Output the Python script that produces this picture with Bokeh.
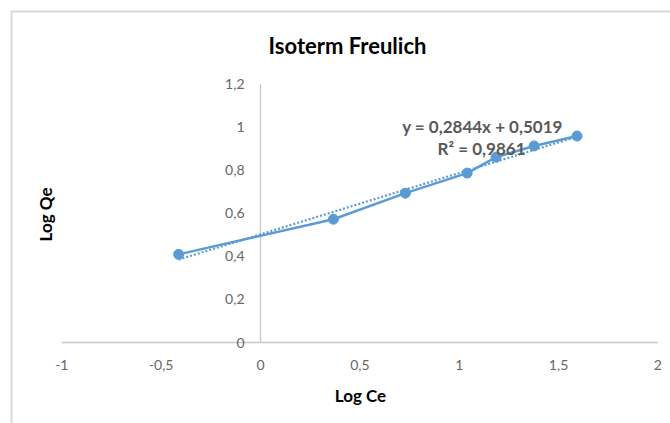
import math
from bokeh.plotting import figure
from bokeh.models import Range1d, Label, LabelSet, ColumnDataSource
from bokeh.core.properties import value
from bokeh.embed import file_html
from bokeh.resources import INLINE

# ---- data ----
log_ce = [-0.412, 0.367, 0.729, 1.040, 1.186, 1.377, 1.593]
log_qe = [0.409, 0.572, 0.693, 0.786, 0.860, 0.912, 0.958]
slope = 0.2844
intercept = 0.5019
r_squared = 0.9861
x_ticks = [-1, -0.5, 0, 0.5, 1, 1.5, 2]
x_tick_labels = ["-1", "-0,5", "0", "0,5", "1", "1,5", "2"]
y_ticks = [0, 0.2, 0.4, 0.6, 0.8, 1.0, 1.2]
y_tick_labels = ["0", "0,2", "0,4", "0,6", "0,8", "1", "1,2"]
title_text = "Isoterm Freulich"
x_title = "Log Ce"
y_title = "Log Qe"

BLUE = "#5B9BD5"
GREY_TXT = "#595959"
AXIS = "#C8C8C8"
FONT = "Lato"

# ---- layout (pixels) ----
W, H = 670, 423
X0_PX, X_SCALE = 260.0, 198.7      # pixel of x = 0, pixels per unit
Y0_PX, Y_SCALE = 342.0, 215.5      # pixel of y = 0, pixels per unit


def px_x(px):
    return (px - X0_PX) / X_SCALE


def px_y(py):
    return (Y0_PX - py) / Y_SCALE


p = figure(width=W, height=H,
           x_range=Range1d(px_x(0), px_x(W)), y_range=Range1d(px_y(H), px_y(0)),
           output_backend="svg", toolbar_location=None,
           min_border=0, min_border_left=0, min_border_right=0,
           min_border_top=0, min_border_bottom=0)
p.title.visible = False
p.axis.visible = False
p.grid.visible = False
p.outline_line_color = None
p.background_fill_color = "white"
p.border_fill_color = "white"

# chart-area border (left and top edges)
p.line([px_x(11), px_x(11), px_x(W + 5)], [px_y(H + 5), px_y(11), px_y(11)],
       line_color="#D9D9D9", line_width=2)

# axes lines
p.segment(x0=[x_ticks[0], 0], y0=[0, y_ticks[0]], x1=[x_ticks[-1], 0], y1=[0, y_ticks[-1]],
          line_color=AXIS, line_width=1.3)

# tick labels
xsrc = ColumnDataSource(dict(x=x_ticks, y=[0] * len(x_ticks), t=x_tick_labels))
p.add_layout(LabelSet(x="x", y="y", text="t", source=xsrc, y_offset=-22,
                      text_align="center", text_baseline="middle",
                      text_font=value(FONT), text_font_size=value("14px"),
                      text_color="#666666"))
ysrc = ColumnDataSource(dict(x=[0] * len(y_ticks), y=y_ticks, t=y_tick_labels))
p.add_layout(LabelSet(x="x", y="y", text="t", source=ysrc, x_offset=-16,
                      text_align="right", text_baseline="middle",
                      text_font=value(FONT), text_font_size=value("14px"),
                      text_color="#666666"))

# axis titles
p.add_layout(Label(x=px_x(360), y=px_y(395), text=x_title, text_align="center",
                   text_baseline="middle", text_font=FONT, text_font_size="17px",
                   text_font_style="bold", text_color="#000000"))
p.add_layout(Label(x=px_x(45), y=px_y(214), text=y_title, angle=math.pi / 2,
                   text_align="center", text_baseline="middle", text_font=FONT,
                   text_font_size="17px", text_font_style="bold", text_color="#000000"))

# chart title
p.add_layout(Label(x=px_x(347), y=px_y(45), text=title_text, text_align="center",
                   text_baseline="middle", text_font=FONT, text_font_size="22px",
                   text_font_style="bold", text_color="#000000"))

# trendline
tx = [min(log_ce), max(log_ce)]
ty = [slope * v + intercept for v in tx]
p.line(tx, ty, line_color=BLUE, line_width=2.2, line_dash="2 2")

# series
p.line(log_ce, log_qe, line_color=BLUE, line_width=2.5)
p.scatter(log_ce, log_qe, size=10, fill_color=BLUE, line_color=BLUE)

# trendline equation
eq1 = "y = " + f"{slope:.4f}".replace(".", ",") + "x + " + f"{intercept:.4f}".replace(".", ",")
eq2 = "R² = " + f"{r_squared:.4f}".replace(".", ",")
p.add_layout(Label(x=px_x(482), y=px_y(126), text=eq1, text_align="center",
                   text_baseline="middle", text_font=FONT, text_font_size="17px",
                   text_font_style="bold", text_color=GREY_TXT))
p.add_layout(Label(x=px_x(481), y=px_y(148), text=eq2, text_align="center",
                   text_baseline="middle", text_font=FONT, text_font_size="17px",
                   text_font_style="bold", text_color=GREY_TXT))

open("out.html", "w").write(file_html(p, INLINE))
